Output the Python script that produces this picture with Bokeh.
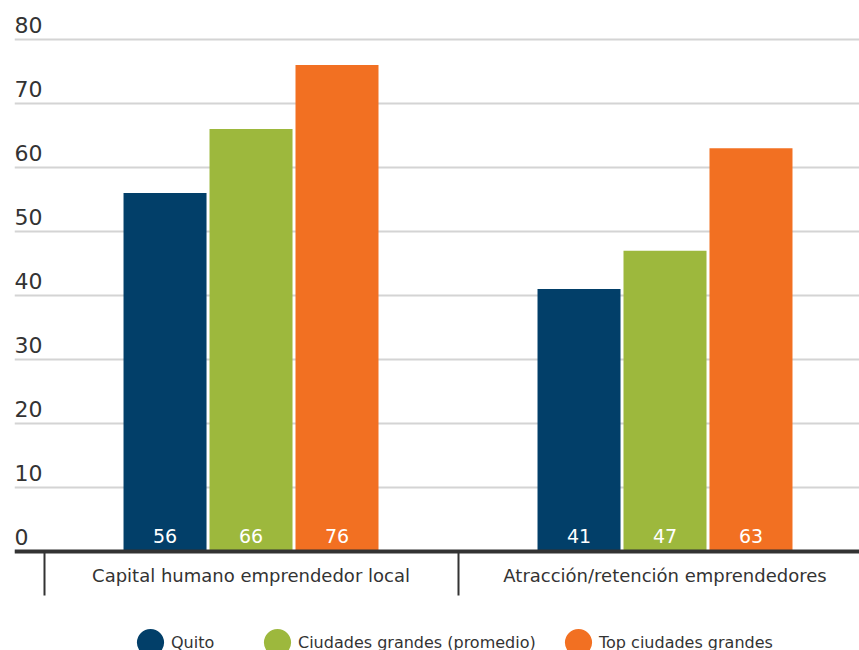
import math
from bokeh.plotting import figure
from bokeh.models import (Range1d, FixedTicker, ColumnDataSource, Legend, LegendItem,
                          LinearAxis)
from bokeh.transform import dodge
from bokeh.core.properties import value
from bokeh.embed import file_html
from bokeh.resources import INLINE

# ---- data ----
categories = ["Capital humano emprendedor local", "Atracción/retención emprendedores"]
series = ["Quito", "Ciudades grandes (promedio)", "Top ciudades grandes"]
quito = [56, 41]
ciudades = [66, 47]
top_ciudades = [76, 63]
y_ticks = [0, 10, 20, 30, 40, 50, 60, 70, 80]

# ---- style ----
colors = ["#023f69", "#9db83d", "#f27022"]
FONT = "DejaVu Sans"
TEXT = "#333333"

cat_idx = list(range(len(categories)))
offsets = [-0.2077, 0.0, 0.2077]
bar_w = 0.2005

p = figure(width=859, height=650, output_backend="svg", toolbar_location=None,
           x_range=Range1d(-0.5713, 1.4698), y_range=Range1d(-15.47, 86.09),
           min_border_left=14, min_border_right=0, min_border_top=0, min_border_bottom=0,
           x_axis_location=None, y_axis_location=None)
p.outline_line_color = None
p.background_fill_color = "white"
p.border_fill_color = "white"
p.xgrid.visible = False
p.ygrid.ticker = FixedTicker(ticks=y_ticks)
p.ygrid.grid_line_color = "#d4d4d4"
p.ygrid.grid_line_width = 2

# bars + value labels
for vals, name, color, off in zip([quito, ciudades, top_ciudades], series, colors, offsets):
    src = ColumnDataSource(dict(idx=cat_idx, val=vals, lbl=[str(v) for v in vals]))
    p.vbar(x=dodge("idx", off, range=p.x_range), top="val", bottom=0, width=bar_w,
           source=src, fill_color=color, line_color=None)
    p.text(x=dodge("idx", off, range=p.x_range), y=0, text="lbl", source=src,
           text_color="white", text_font=value(FONT), text_font_size="19px",
           text_align="center", text_baseline="alphabetic", y_offset=-15)

# y tick labels (sitting above the gridlines)
ysrc = ColumnDataSource(dict(y=y_ticks, lbl=[str(t) for t in y_ticks]))
p.text(x=p.x_range.start, y="y", text="lbl", source=ysrc, text_color=TEXT,
       text_font=value(FONT), text_font_size="22px", text_align="left",
       text_baseline="alphabetic", y_offset=-14)

# category axis at y = 0
xaxis = LinearAxis(ticker=FixedTicker(ticks=cat_idx, minor_ticks=[-0.5, 0.5]),
                   fixed_location=0)
xaxis.major_label_overrides = {i: c for i, c in zip(cat_idx, categories)}
xaxis.axis_line_color = TEXT
xaxis.axis_line_width = 4
xaxis.major_tick_line_color = None
xaxis.major_tick_out = 0
xaxis.major_tick_in = 0
xaxis.minor_tick_line_color = TEXT
xaxis.minor_tick_line_width = 2
xaxis.minor_tick_out = 44
xaxis.minor_tick_in = 0
xaxis.major_label_standoff = -30
xaxis.major_label_text_font = FONT
xaxis.major_label_text_font_size = "18px"
xaxis.major_label_text_color = TEXT
p.add_layout(xaxis, "below")

# legend (one per item to match spacing)
legend_x = [119, 246, 547]
nan = float("nan")
for name, color, lx in zip(series, colors, legend_x):
    r = p.ellipse(x=[nan], y=[nan], width=27, height=27, width_units="screen",
                  height_units="screen", fill_color=color, line_color=None)
    leg = Legend(items=[LegendItem(label=name, renderers=[r])], location=(lx, -9),
                 orientation="horizontal", glyph_width=34, glyph_height=34,
                 label_standoff=4, padding=0, margin=0, spacing=0,
                 border_line_color=None, background_fill_alpha=0,
                 label_text_font=FONT, label_text_font_size="16px",
                 label_text_color=TEXT)
    p.add_layout(leg, "center")

open("out.html", "w").write(file_html(p, INLINE))
